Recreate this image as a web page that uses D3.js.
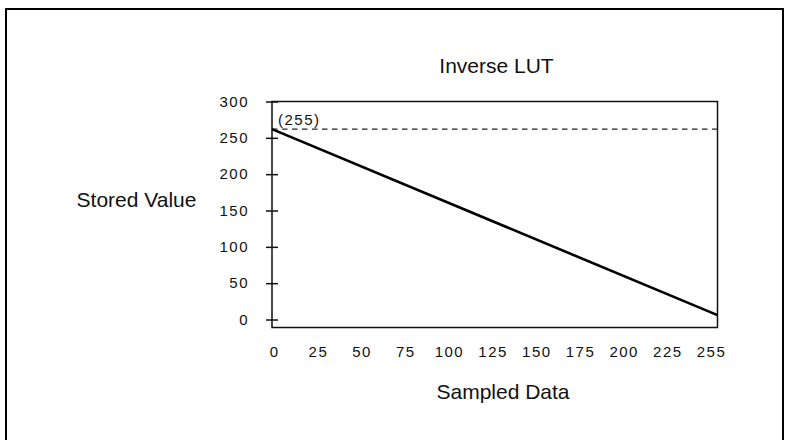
<!DOCTYPE html>
<html>
<head>
<meta charset="utf-8">
<script src="https://cdn.jsdelivr.net/npm/d3@7"></script>
<style>
  html, body { margin: 0; padding: 0; background: #fff; }
  svg { display: block; }
  text { font-family: "Liberation Sans", Arial, Helvetica, sans-serif; fill: #111; }
</style>
</head>
<body>
<svg id="chart" width="790" height="440"></svg>
<script>
// ---- data ----
const lineX = [0, 255];
const lineY = [262, 6];
const dashedLevel = 262;
const dashedLabel = "(255)";
const yTickValues = [0, 50, 100, 150, 200, 250, 300];
const xTickValues = [0, 25, 50, 75, 100, 125, 150, 175, 200, 225, 250];
const xTickLabels = ["0", "25", "50", "75", "100", "125", "150", "175", "200", "225", "255"];
const titleText = "Inverse LUT";
const xTitle = "Sampled Data";
const yTitle = "Stored Value";

// ---- layout ----
const svg = d3.select("#chart");
const box = { left: 272, right: 717.5, top: 101.5, bottom: 327.5 };

const x = d3.scaleLinear().domain([0, 255]).range([box.left, box.right]);
const y = d3.scaleLinear().domain([-11, 300]).range([box.bottom, box.top]);

// outer frame (left + top + right)
svg.append("path")
  .attr("d", "M6,440 L6,9 L783,9 L783,440")
  .attr("fill", "none").attr("stroke", "#000").attr("stroke-width", 2);

// plot box
svg.append("rect")
  .attr("x", box.left).attr("y", box.top)
  .attr("width", box.right - box.left).attr("height", box.bottom - box.top)
  .attr("fill", "none").attr("stroke", "#111").attr("stroke-width", 1.5);

const smallFont = 15;
const smallSpacing = 1.5;

// y axis
const yAxis = svg.append("g")
  .attr("transform", `translate(${box.left},0)`)
  .call(d3.axisLeft(y).tickValues(yTickValues).tickSize(6).tickPadding(0));
yAxis.select(".domain").remove();
yAxis.selectAll(".tick line").attr("x1", -6).attr("x2", 6).attr("stroke", "#111").attr("stroke-width", 1.5);
yAxis.selectAll(".tick text")
  .attr("x", -23)
  .attr("font-size", smallFont)
  .attr("letter-spacing", smallSpacing + "px")
  .attr("fill", "#111")
  .style("font-family", "'Liberation Sans', Arial, sans-serif");

// x axis labels
const xAxis = svg.append("g")
  .attr("transform", `translate(1.5,${box.bottom})`)
  .call(d3.axisBottom(x).tickValues(xTickValues).tickSize(0).tickPadding(0)
    .tickFormat((d, i) => xTickLabels[i]));
xAxis.select(".domain").remove();
xAxis.selectAll(".tick text")
  .attr("y", 18.5)
  .attr("dy", "0.71em")
  .attr("dx", 0.75)
  .attr("font-size", smallFont)
  .attr("letter-spacing", smallSpacing + "px")
  .attr("fill", "#111")
  .style("font-family", "'Liberation Sans', Arial, sans-serif");

// dashed reference line
svg.append("line")
  .attr("x1", x(0)).attr("x2", x(255))
  .attr("y1", y(dashedLevel)).attr("y2", y(dashedLevel))
  .attr("stroke", "#222").attr("stroke-width", 1.2)
  .attr("stroke-dasharray", "5.5,4.5");

svg.append("text")
  .attr("x", x(0) + 6).attr("y", y(dashedLevel) - 4.5)
  .attr("font-size", smallFont)
  .attr("letter-spacing", smallSpacing + "px")
  .text(dashedLabel);

// main line
const line = d3.line().x(d => x(d[0])).y(d => y(d[1]));
svg.append("path")
  .datum(lineX.map((v, i) => [v, lineY[i]]))
  .attr("d", line)
  .attr("fill", "none").attr("stroke", "#000").attr("stroke-width", 2.6);

// titles
const bigFont = 21;
svg.append("text")
  .attr("x", 496.5).attr("y", 72.5)
  .attr("text-anchor", "middle")
  .attr("font-size", bigFont)
  .text(titleText);

svg.append("text")
  .attr("x", 136.5).attr("y", 206.5)
  .attr("text-anchor", "middle")
  .attr("font-size", bigFont)
  .text(yTitle);

svg.append("text")
  .attr("x", 503).attr("y", 398.5)
  .attr("text-anchor", "middle")
  .attr("font-size", bigFont)
  .text(xTitle);
</script>
</body>
</html>
